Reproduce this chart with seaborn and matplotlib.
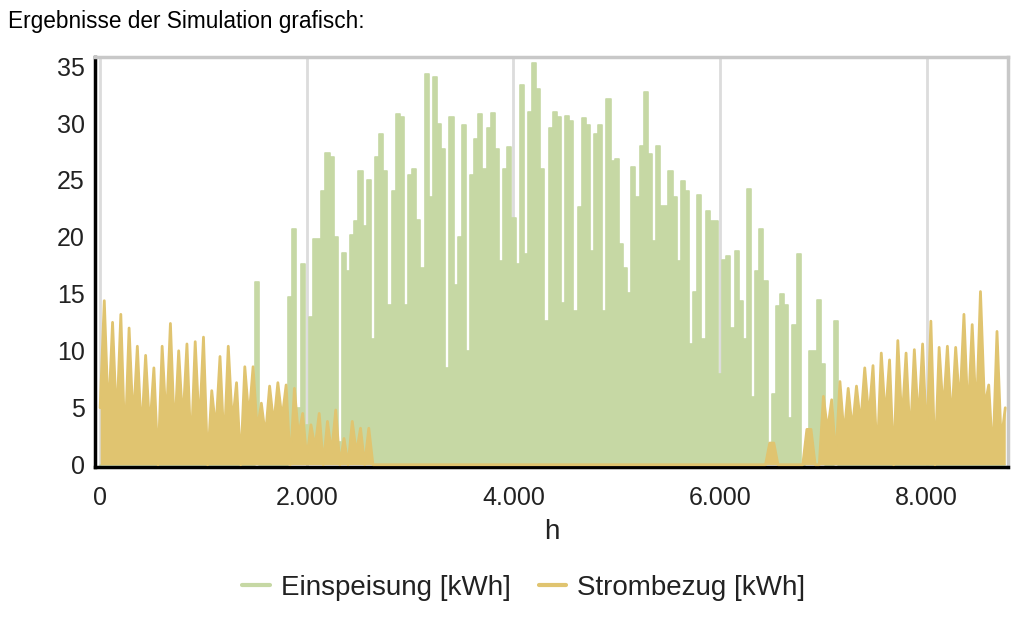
import numpy as np
import pandas as pd
import matplotlib.pyplot as plt
import seaborn as sns

# hourly simulation, every 40 h
hours = list(range(0, 8761, 40))

einspeisung = ([0] * 38 + [16] + [0] * 7 +
    [14.7, 20.7, 5, 17.6, 3.5, 13, 19.8, 19.8, 24, 27.4, 27, 20, 2, 18.6, 17, 20.2, 21.4, 25.8, 21, 25,
     11, 27, 29, 25.8, 14, 24, 30.8, 30.5, 14, 25.4, 26, 21.5, 17.3, 34.3, 23.5, 34, 29.9, 27.7, 8.5, 30.5,
     15.8, 20, 29.8, 10, 25.4, 28.6, 30.8, 26, 29.6, 30.9, 27.7, 17.9, 26, 27.9, 21.7, 17.6, 33.3, 18.5, 31, 35.3,
     33, 26, 12.6, 29.6, 31, 30.5, 14.2, 30.6, 30.2, 13.5, 22.6, 30.4, 29.8, 18.8, 29, 29.8, 13.5, 32.1, 26.7, 26.8,
     19.4, 17.3, 15.1, 26.1, 23.5, 28, 32.7, 27.3, 19.6, 28, 22.7, 22.7, 25.8, 23.5, 17.9, 24.9, 24, 10.6, 15.2, 23.7,
     11, 22.3, 21.4, 21.4, 8, 18, 18.3, 12, 18.8, 14.4, 11, 24.2, 5.9, 17, 20.7, 16.1, 1.5, 6.2, 13.9, 15,
     14, 4.1, 12.3, 18.5, 0, 2, 10, 10, 14.5, 8.8, 0, 0, 12.6] + [0] * 41)

strombezug = ([5, 14.4, 4, 12.5, 3.5, 13.2, 1.5, 12, 3.5, 10.4,
     2.5, 9.6, 3, 8.5, 0, 10.4, 3.5, 12.4, 2.5, 10,
     3.5, 10.6, 1, 10.8, 3, 11.2, 0, 6.5, 3, 9.5,
     1.5, 10.4, 3.5, 7.2, 0, 8.6, 4, 8.6, 3, 5.4,
     2.5, 6.9, 3.5, 7.2, 4, 7, 0, 6.7, 2.5, 4.5,
     0.5, 3.5, 1.5, 4.5, 0, 3.8, 1, 4.8, 0, 2.3,
     0, 3.8, 1, 3.2, 0, 3.2, 0] + [0] * 95 + [1.9, 1.9] + [0] * 7 + [3.1, 3.1, 0, 0] +
    [6, 3, 5.7, 0.5, 7.3, 2.5, 6.7, 3, 6.9, 3.5,
     8.5, 4, 8.7, 0.5, 9.8, 4, 9.2, 0, 10.9, 3.5,
     9.8, 2, 10.1, 3.5, 10.6, 2, 12.6, 0, 10.3, 4.5,
     10.4, 3.5, 10.3, 5, 13.2, 4, 12.3, 4, 15.2, 5,
     7, 0.5, 11.7, 2, 5])

x_ticks = [0, 2000, 4000, 6000, 8000]
x_tick_labels = ["0", "2.000", "4.000", "6.000", "8.000"]
y_ticks = [0, 5, 10, 15, 20, 25, 30, 35]
series_names = ["Einspeisung [kWh]", "Strombezug [kWh]"]

df = pd.DataFrame({"h": hours, "Einspeisung": einspeisung, "Strombezug": strombezug})

green = "#c6d8a4"
gold = "#e0c470"

sns.set_style("white")
plt.rcParams["font.family"] = ["Liberation Sans", "DejaVu Sans"]

fig = plt.figure(figsize=(10.17, 6.19), dpi=100)
ax = fig.add_axes([0.0934, 0.2456, 0.8976, 0.6624])

sns.lineplot(data=df, x="h", y="Einspeisung", color=green, linewidth=1.2, drawstyle="steps-mid",
             ax=ax, zorder=2)
ax.fill_between(df["h"], 0, df["Einspeisung"], step="mid", color=green, linewidth=0, zorder=2)
sns.lineplot(data=df, x="h", y="Strombezug", color=gold, linewidth=2, ax=ax, zorder=3)
ax.fill_between(df["h"], 0, df["Strombezug"], color=gold, linewidth=0, zorder=3)

ax.set_xlim(-50, 8785)
ax.set_ylim(-0.2, 35.8)
ax.set_xticks(x_ticks)
ax.set_xticklabels(x_tick_labels)
ax.set_yticks(y_ticks)
ax.tick_params(axis="both", labelsize=18, colors="#222222", length=4, width=1)
ax.tick_params(axis="x", color="#aaaaaa", pad=10)
ax.xaxis.grid(True, color="#dcdcdc", linewidth=2, zorder=0)
ax.yaxis.grid(False)
ax.set_axisbelow(True)

ax.set_xlabel("h", fontsize=20, color="#222222", labelpad=6)
ax.set_ylabel("")

for side in ["top", "right"]:
    ax.spines[side].set_color("#c8c8c8")
    ax.spines[side].set_linewidth(2.5)
for side in ["left", "bottom"]:
    ax.spines[side].set_color("black")
    ax.spines[side].set_linewidth(2.5)

handles = [plt.Line2D([], [], color=green, linewidth=3),
           plt.Line2D([], [], color=gold, linewidth=3)]
fig.legend(handles, series_names, loc="center", bbox_to_anchor=(0.515, 0.05), ncol=2,
           frameon=False, fontsize=20, handlelength=1.0, handletextpad=0.4, columnspacing=1.0,
           labelcolor="#222222")

fig.text(0.008, 0.965, "Ergebnisse der Simulation grafisch:", fontsize=16.3, color="black",
         ha="left", va="center")

fig.savefig("out.png", dpi=100)
